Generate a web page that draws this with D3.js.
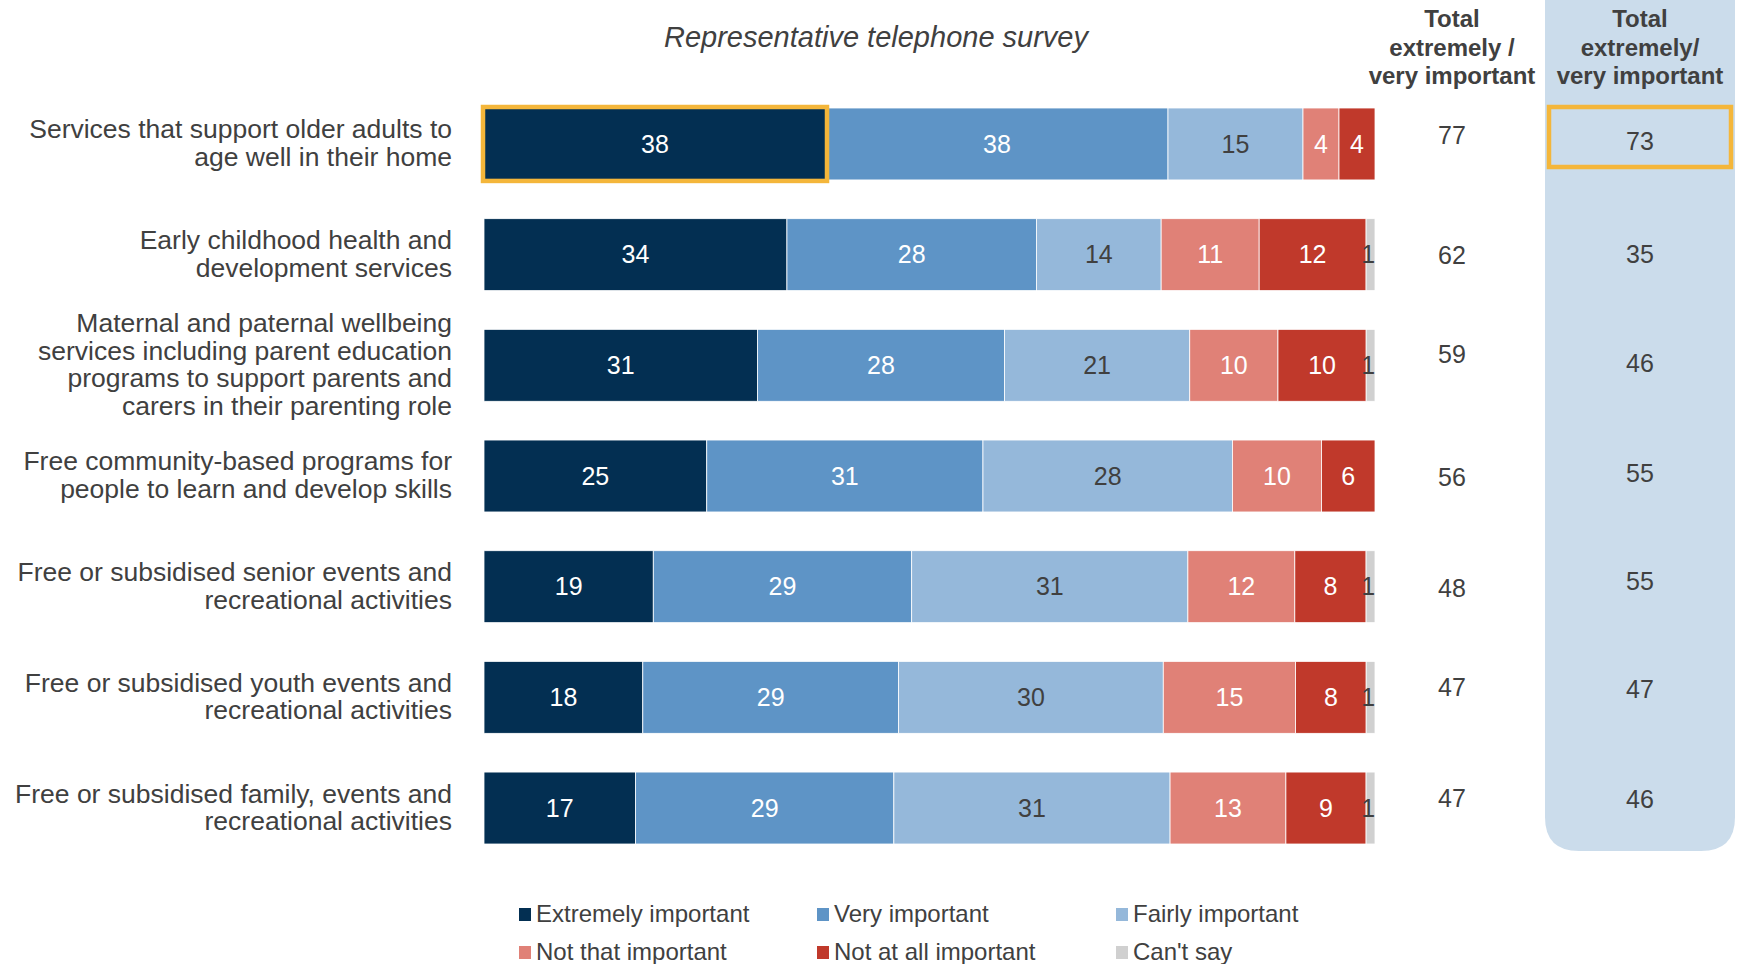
<!DOCTYPE html>
<html>
<head>
<meta charset="utf-8">
<script src="https://cdn.jsdelivr.net/npm/d3@7"></script>
<style>
  html, body { margin: 0; padding: 0; background: #fff; }
  svg { display: block; font-family: "Liberation Sans", Arial, sans-serif; }
</style>
</head>
<body>
<svg id="chart" width="1746" height="964"></svg>
<script>
// ---------- DATA ----------
const categories = [
  ["Services that support older adults to", "age well in their home"],
  ["Early childhood health and", "development services"],
  ["Maternal and paternal wellbeing", "services including parent education", "programs to support parents and", "carers in their parenting role"],
  ["Free community-based programs for", "people to learn and develop skills"],
  ["Free or subsidised senior events and", "recreational activities"],
  ["Free or subsidised youth events and", "recreational activities"],
  ["Free or subsidised family, events and", "recreational activities"]
];
const seriesNames = ["Extremely important", "Very important", "Fairly important", "Not that important", "Not at all important", "Can't say"];
const extremelyImportant = [38, 34, 31, 25, 19, 18, 17];
const veryImportant      = [38, 28, 28, 31, 29, 29, 29];
const fairlyImportant    = [15, 14, 21, 28, 31, 30, 31];
const notThatImportant   = [4, 11, 10, 10, 12, 15, 13];
const notAtAllImportant  = [4, 12, 10, 6, 8, 8, 9];
const cantSay            = [0, 1, 1, 0, 1, 1, 1];
const totalTelephone     = [77, 62, 59, 56, 48, 47, 47];
const totalOther         = [73, 35, 46, 55, 55, 47, 46];
const titleText = "Representative telephone survey";
const header1 = ["Total", "extremely /", "very important"];
const header2 = ["Total", "extremely/", "very important"];

// ---------- STYLE / LAYOUT ----------
const colors = ["#032F52", "#5E94C6", "#95B8DA", "#E08177", "#C0392B", "#D0D0D0"];
const labelColors = ["#fff", "#fff", "#404040", "#fff", "#fff", "#404040"];
const textColor = "#404040";
const highlight = "#F4B63A";
const panelColor = "#CBDCEB";
// small vertical nudges of the total figures, as placed in the original
const nudge1 = [-9, 1, -11, 1, 2, -10, -10];
const nudge2 = [-3, 0, -2, -3, -5, -8, -9];

const svg = d3.select("#chart");
const series = [extremelyImportant, veryImportant, fairlyImportant, notThatImportant, notAtAllImportant, cantSay];

const rows = categories.map((c, i) => {
  const vals = series.map(s => s[i]);
  return { i, vals, total: d3.sum(vals) };
});

const y = d3.scaleBand().domain(d3.range(categories.length)).range([108, 844]).paddingInner(0.35).paddingOuter(0);
const barX0 = 484, barX1 = 1375;

// panel for second total column
const px0 = 1545, px1 = 1735, pBottom = 851, r = 34;
svg.append("path")
  .attr("d", `M${px0},0 H${px1} V${pBottom - r} Q${px1},${pBottom} ${px1 - r},${pBottom} H${px0 + r} Q${px0},${pBottom} ${px0},${pBottom - r} Z`)
  .attr("fill", panelColor);

// title
svg.append("text").attr("x", 876).attr("y", 47).attr("text-anchor", "middle")
  .attr("font-size", 29).attr("font-style", "italic").attr("fill", textColor).text(titleText);

// headers
function header(lines, cx) {
  const t = svg.append("text").attr("text-anchor", "middle").attr("font-size", 24).attr("font-weight", "bold").attr("fill", textColor);
  lines.forEach((l, k) => t.append("tspan").attr("x", cx).attr("y", 27 + k * 28.5).text(l));
}
header(header1, 1452);
header(header2, 1640);

// category labels
const lineH = 27.6;
rows.forEach(row => {
  const lines = categories[row.i];
  const cy = y(row.i) + y.bandwidth() / 2;
  const t = svg.append("text").attr("text-anchor", "end").attr("font-size", 26.5).attr("fill", textColor);
  lines.forEach((l, k) => {
    t.append("tspan").attr("x", 452).attr("y", cy + (k - (lines.length - 1) / 2) * lineH - 1).attr("dy", "0.35em").text(l);
  });
});

// bars
rows.forEach(row => {
  const x = d3.scaleLinear().domain([0, row.total]).range([barX0, barX1]);
  let acc = 0;
  const segs = row.vals.map((v, k) => { const s = { k, v, x0: acc, x1: acc + v }; acc += v; return s; }).filter(s => s.v > 0);
  const g = svg.append("g");
  g.selectAll("rect").data(segs).join("rect")
    .attr("x", d => x(d.x0)).attr("width", d => x(d.x1) - x(d.x0))
    .attr("y", y(row.i)).attr("height", y.bandwidth())
    .attr("fill", d => colors[d.k])
    .attr("stroke", "#fff").attr("stroke-width", 0.8);
  g.selectAll("text").data(segs).join("text")
    .attr("x", d => d.k === 5 ? x(d.x0) + 2 : (x(d.x0) + x(d.x1)) / 2)
    .attr("y", y(row.i) + y.bandwidth() / 2).attr("dy", "0.35em")
    .attr("text-anchor", "middle").attr("font-size", 25)
    .attr("fill", d => labelColors[d.k]).text(d => d.v);
});

// highlight first segment row 1
{
  const x = d3.scaleLinear().domain([0, rows[0].total]).range([barX0, barX1]);
  svg.append("rect").attr("x", x(0) - 1).attr("y", y(0) - 1)
    .attr("width", x(extremelyImportant[0]) - x(0) + 2).attr("height", y.bandwidth() + 2)
    .attr("fill", "none").attr("stroke", highlight).attr("stroke-width", 4.5);
}

// totals
rows.forEach(row => {
  const cy = y(row.i) + y.bandwidth() / 2;
  svg.append("text").attr("x", 1452).attr("y", cy + nudge1[row.i]).attr("dy", "0.35em").attr("text-anchor", "middle")
    .attr("font-size", 25).attr("fill", textColor).text(totalTelephone[row.i]);
  svg.append("text").attr("x", 1640).attr("y", cy + nudge2[row.i]).attr("dy", "0.35em").attr("text-anchor", "middle")
    .attr("font-size", 25).attr("fill", textColor).text(totalOther[row.i]);
});
// highlight total 73
svg.append("rect").attr("x", 1549).attr("y", y(0) - 1).attr("width", 182).attr("height", 60)
  .attr("fill", "none").attr("stroke", highlight).attr("stroke-width", 4.5);

// legend
const legX = [519, 817, 1116], legY = [914, 952];
seriesNames.forEach((name, k) => {
  const lx = legX[k % 3], ly = legY[Math.floor(k / 3)];
  svg.append("rect").attr("x", lx).attr("y", ly - 6).attr("width", 12).attr("height", 13).attr("fill", colors[k]);
  svg.append("text").attr("x", lx + 17).attr("y", ly).attr("dy", "0.35em").attr("font-size", 24)
    .attr("fill", textColor).text(name);
});
</script>
</body>
</html>
